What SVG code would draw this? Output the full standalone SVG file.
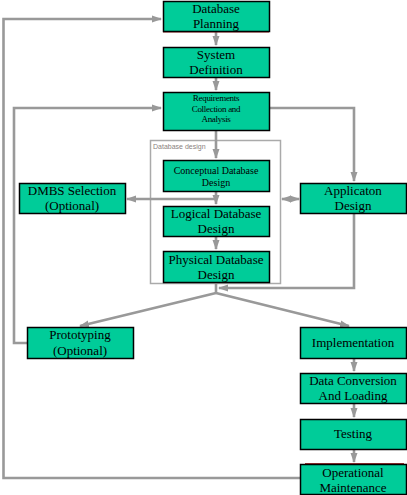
<svg xmlns="http://www.w3.org/2000/svg" width="407" height="495" viewBox="0 0 407 495">
<style>
.n{fill:#00CC99;stroke:#000;stroke-width:1.5}
.t{font-family:"Liberation Serif","Times New Roman",serif;font-size:13px;fill:#000;text-anchor:middle}
.s{font-size:10px}
.xs{font-size:9px;letter-spacing:-0.3px}
.c{fill:none;stroke:#999;stroke-width:2.6}
</style>
<defs>
<marker id="a" markerUnits="userSpaceOnUse" markerWidth="10" markerHeight="10" viewBox="0 0 10 10" refX="9" refY="5" orient="auto-start-reverse">
<path d="M0,1.5 L10,5 L0,8.5 Z" fill="#999"/>
</marker>
</defs>
<rect x="0" y="0" width="407" height="495" fill="#fff"/>
<g id="container">
<rect x="150.5" y="140.5" width="130" height="143" fill="none" stroke="#aaa" stroke-width="1.5"/>
<text x="153" y="149" font-family="Liberation Sans,Arial,sans-serif" font-size="7" fill="#8a7f80">Database design</text>
</g>
<g id="connectors">
<polyline class="c" points="300,478 3.5,478 3.5,19 161,19" marker-end="url(#a)"/>
<polyline class="c" points="27,343 14,343 14,108 161,108" marker-end="url(#a)"/>
<polyline class="c" points="269,108 354,108 354,181" marker-end="url(#a)"/>
<line class="c" x1="216" y1="32" x2="216" y2="45" marker-end="url(#a)"/>
<line class="c" x1="216" y1="78" x2="216" y2="90" marker-end="url(#a)"/>
<line class="c" x1="216" y1="131" x2="216" y2="158" marker-end="url(#a)"/>
<line class="c" x1="216" y1="192" x2="216" y2="204" marker-end="url(#a)"/>
<line class="c" x1="216" y1="237" x2="216" y2="249" marker-end="url(#a)"/>
<polyline class="c" points="216,199 127,199" marker-end="url(#a)"/>
<line class="c" x1="282" y1="199" x2="299" y2="199" marker-start="url(#a)" marker-end="url(#a)"/>
<polyline class="c" points="354,214 354,288 219,288" marker-end="url(#a)"/>
<polyline class="c" points="216,284 216,293"/>
<polyline class="c" points="216,293 80,326" marker-end="url(#a)"/>
<polyline class="c" points="216,293 349,326" marker-end="url(#a)"/>
<line class="c" x1="354" y1="359" x2="354" y2="371" marker-end="url(#a)"/>
<line class="c" x1="354" y1="404" x2="354" y2="417" marker-end="url(#a)"/>
<line class="c" x1="354" y1="450" x2="354" y2="462" marker-end="url(#a)"/>
</g>
<g id="planning">
<line x1="163" y1="32" x2="269" y2="32" stroke="#a33" stroke-width="1"/>
<rect class="n" x="163.5" y="1.5" width="106" height="30"/>
<text class="t" x="216" y="13">Database</text>
<text class="t" x="216" y="28">Planning</text>
</g>
<g id="sysdef">
<rect class="n" x="163.5" y="47.5" width="106" height="30"/>
<text class="t" x="216" y="59">System</text>
<text class="t" x="216" y="74">Definition</text>
</g>
<g id="requirements">
<rect class="n" x="163.5" y="92.5" width="106" height="38"/>
<text class="t xs" x="216" y="101">Requirements</text>
<text class="t xs" x="216" y="112">Collection and</text>
<text class="t xs" x="216" y="122">Analysis</text>
</g>
<g id="conceptual">
<rect class="n" x="163.5" y="160.5" width="106" height="31"/>
<text class="t s" x="216" y="174">Conceptual Database</text>
<text class="t s" x="216" y="186">Design</text>
</g>
<g id="logical">
<rect class="n" x="163.5" y="206.5" width="106" height="30"/>
<text class="t" x="216" y="218">Logical Database</text>
<text class="t" x="216" y="233">Design</text>
</g>
<g id="physical">
<rect class="n" x="163.5" y="251.5" width="106" height="31"/>
<text class="t" x="216" y="264">Physical Database</text>
<text class="t" x="216" y="279">Design</text>
</g>
<g id="dmbs">
<rect class="n" x="19.5" y="183.5" width="106" height="30"/>
<text class="t" x="72" y="195">DMBS Selection</text>
<text class="t" x="72" y="210">(Optional)</text>
</g>
<g id="application">
<rect class="n" x="300.5" y="183.5" width="106" height="30"/>
<text class="t" x="353" y="195">Applicaton</text>
<text class="t" x="353" y="210">Design</text>
</g>
<g id="prototyping">
<rect class="n" x="27.5" y="327.5" width="106" height="31"/>
<text class="t" x="80" y="339">Prototyping</text>
<text class="t" x="80" y="355">(Optional)</text>
</g>
<g id="implementation">
<rect class="n" x="300.5" y="327.5" width="106" height="31"/>
<text class="t" x="353" y="347">Implementation</text>
</g>
<g id="dataconv">
<rect class="n" x="300.5" y="373.5" width="106" height="30"/>
<text class="t" x="353" y="385">Data Conversion</text>
<text class="t" x="353" y="400">And Loading</text>
</g>
<g id="testing">
<rect class="n" x="300.5" y="419.5" width="106" height="30"/>
<text class="t" x="353" y="438">Testing</text>
</g>
<g id="operational">
<line x1="305" y1="463.5" x2="404" y2="463.5" stroke="#a33" stroke-width="1"/>
<rect class="n" x="300.5" y="464.5" width="106" height="30"/>
<text class="t" x="353" y="477">Operational</text>
<text class="t" x="353" y="492">Maintenance</text>
</g>
</svg>
